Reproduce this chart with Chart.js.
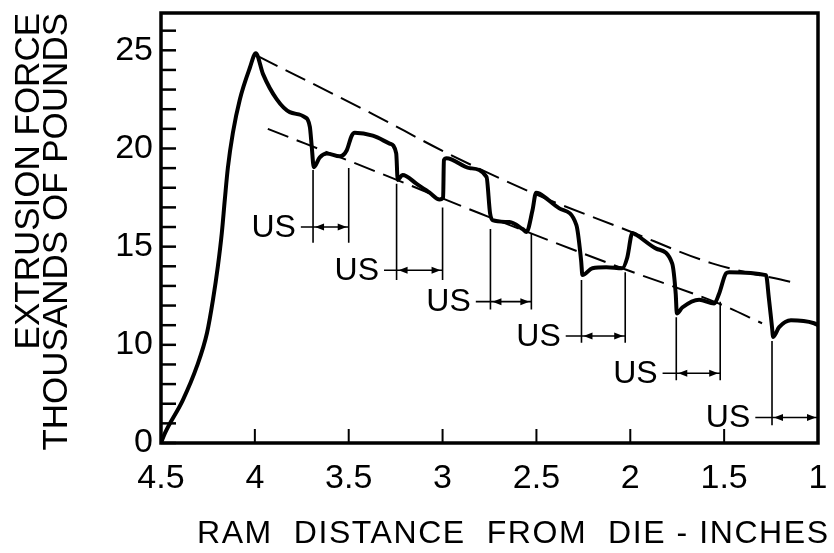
<!DOCTYPE html>
<html>
<head>
<meta charset="utf-8">
<title>Extrusion force vs ram distance</title>
<script src="https://cdn.jsdelivr.net/npm/chart.js@4.4.1/dist/chart.umd.min.js"></script>
<style>
  html, body { margin: 0; padding: 0; background: #fff; }
  canvas { display: block; }
</style>
</head>
<body>
<canvas id="forceChart" width="834" height="553"></canvas>
<script>
// trace: ram distance from die (in) -> force (1000 lb)
const ramDistance = [4.50, 4.479, 4.383, 4.309, 4.255, 4.223, 4.197, 4.176, 4.160, 4.144, 4.117, 4.080, 4.027, 3.995,
  3.957, 3.883, 3.814, 3.734, 3.707, 3.697, 3.686, 3.654, 3.617, 3.548, 3.511, 3.484, 3.468,
  3.372, 3.282, 3.247, 3.239, 3.213, 3.138, 3.069, 3.016, 2.997, 2.993, 2.979,
  2.856, 2.766, 2.747, 2.734, 2.644, 2.574, 2.553, 2.521, 2.502, 2.484,
  2.378, 2.287, 2.262, 2.255, 2.202, 2.128, 2.043, 2.016, 1.989, 1.968,
  1.862, 1.777, 1.758, 1.752, 1.723, 1.633, 1.553, 1.527, 1.489, 1.473,
  1.277, 1.262, 1.245, 1.239, 1.207, 1.144, 1.021, 1.0];
const force = [5.0, 5.5, 7.2, 8.9, 10.6, 12.3, 14.0, 15.7, 17.4, 19.0, 20.8, 22.5, 24.1, 24.85,
  23.8, 22.5, 21.85, 21.6, 21.1, 20.1, 19.05, 19.55, 19.75, 19.6, 19.9, 20.65, 20.8,
  20.65, 20.25, 19.75, 18.4, 18.65, 18.2, 17.75, 17.4, 17.5, 19.4, 19.5,
  19.0, 18.55, 16.7, 16.35, 16.25, 15.9, 15.75, 16.85, 17.75, 17.7,
  16.95, 16.1, 14.3, 13.55, 13.9, 13.95, 13.9, 14.45, 15.7, 15.6,
  14.9, 14.15, 12.6, 11.6, 11.9, 12.3, 12.1, 12.6, 13.65, 13.7,
  13.55, 12.4, 10.9, 10.4, 10.9, 11.25, 11.1, 11.0];

// dashed envelopes
const upperDist = [3.984, 3.372, 2.963, 2.500, 2.021, 1.564, 1.144];
const upperForce = [24.7, 21.75, 19.7, 17.65, 15.85, 14.15, 13.2];
const lowerDist = [3.931, 3.335, 2.803, 2.043, 1.527, 1.298];
const lowerForce = [21.0, 18.75, 16.7, 13.9, 12.1, 11.1];

// "US" intervals
const usStart = [3.69, 3.245, 2.745, 2.26, 1.755, 1.245];
const usEnd = [3.50, 3.00, 2.527, 2.027, 1.521, 1.0];
const usStartTop = [18.9, 18.2, 15.9, 13.3, 11.4, 10.2];
const usEndTop = [19.0, 17.0, 15.7, 13.7, 12.2, 11.0];
const usBottom = [15.2, 13.3, 11.8, 10.1, 8.2, 5.9];
const usArrow = [16.0, 13.8, 12.2, 10.45, 8.55, 6.3];
const usLabelAt = [3.90, 3.457, 2.968, 2.489, 1.973, 1.479];
const usText = 'US';

// axis: the force axis is drawn with a suppressed zero
const yTickValues = [5, 10, 15, 20, 25];
const yTickLabels = ['0', '10', '15', '20', '25'];
const xTitle = 'RAM  DISTANCE  FROM  DIE - INCHES';
const yTitle = ['EXTRUSION FORCE', 'THOUSANDS OF POUNDS'];

const FONT = '"Liberation Sans", Arial, sans-serif';

const toPoints = (xs, ys) => xs.map((v, i) => ({ x: v, y: ys[i] }));

const marks = {
  id: 'marks',
  afterDatasetsDraw(chart) {
    const { ctx, chartArea: a, scales: { x, y } } = chart;
    ctx.save();
    ctx.strokeStyle = '#000';
    ctx.fillStyle = '#000';

    // ticks point inward
    ctx.lineWidth = 2.5;
    y.ticks.forEach(t => {
      const py = y.getPixelForValue(t.value);
      ctx.beginPath(); ctx.moveTo(a.left, py); ctx.lineTo(a.left + 15, py); ctx.stroke();
    });
    ctx.lineWidth = 2;
    x.ticks.forEach(t => {
      const px = x.getPixelForValue(t.value);
      ctx.beginPath(); ctx.moveTo(px, a.bottom); ctx.lineTo(px, a.bottom - 14); ctx.stroke();
    });

    ctx.lineWidth = 3.5;
    ctx.strokeRect(a.left, a.top, a.right - a.left, a.bottom - a.top);

    // US brackets
    ctx.font = '32px ' + FONT;
    ctx.textAlign = 'center';
    ctx.textBaseline = 'middle';
    const tw = ctx.measureText(usText).width;
    usStart.forEach((d, i) => {
      const xl = x.getPixelForValue(d);
      const xr = x.getPixelForValue(usEnd[i]);
      const yb = y.getPixelForValue(usBottom[i]);
      const ya = y.getPixelForValue(usArrow[i]);
      const xt = x.getPixelForValue(usLabelAt[i]);

      ctx.lineWidth = 1.6;
      ctx.beginPath();
      ctx.moveTo(xl, y.getPixelForValue(usStartTop[i])); ctx.lineTo(xl, yb);
      ctx.moveTo(xr, y.getPixelForValue(usEndTop[i])); ctx.lineTo(xr, yb);
      ctx.moveTo(xt + tw / 2 + 5, ya); ctx.lineTo(xr, ya);
      ctx.stroke();

      ctx.beginPath();
      ctx.moveTo(xl + 2, ya); ctx.lineTo(xl + 11, ya - 3.5); ctx.lineTo(xl + 11, ya + 3.5);
      ctx.closePath();
      ctx.moveTo(xr - 2, ya); ctx.lineTo(xr - 11, ya - 3.5); ctx.lineTo(xr - 11, ya + 3.5);
      ctx.closePath();
      ctx.fill();

      ctx.fillText(usText, xt, ya + 1);
    });

    // x axis title
    ctx.font = '32px ' + FONT;
    ctx.textAlign = 'left';
    ctx.textBaseline = 'alphabetic';
    const x0 = a.left + 36, x1 = a.right + 10;
    const w = ctx.measureText(xTitle).width;
    ctx.letterSpacing = ((x1 - x0 - w) / (xTitle.length - 1)).toFixed(2) + 'px';
    ctx.fillText(xTitle, x0, a.bottom + 100);
    ctx.restore();
  }
};

new Chart(document.getElementById('forceChart'), {
  type: 'line',
  data: {
    datasets: [
      {
        label: 'Force',
        data: toPoints(ramDistance, force),
        borderColor: '#000',
        borderWidth: 4,
        pointRadius: 0,
        cubicInterpolationMode: 'monotone',
        fill: false
      },
      {
        label: 'Upper',
        data: toPoints(upperDist, upperForce),
        borderColor: '#000',
        borderWidth: 2,
        borderDash: [22, 9],
        pointRadius: 0,
        cubicInterpolationMode: 'monotone',
        fill: false
      },
      {
        label: 'Lower',
        data: toPoints(lowerDist, lowerForce),
        borderColor: '#000',
        borderWidth: 2,
        borderDash: [22, 9],
        pointRadius: 0,
        cubicInterpolationMode: 'monotone',
        fill: false
      }
    ]
  },
  options: {
    responsive: false,
    animation: false,
    devicePixelRatio: 1,
    layout: { padding: { top: 13, right: 16 } },
    plugins: { legend: { display: false }, tooltip: { enabled: false } },
    scales: {
      x: {
        type: 'linear',
        reverse: true,
        min: 1,
        max: 4.5,
        grid: { display: false, drawTicks: false },
        border: { display: false },
        ticks: {
          stepSize: 0.5,
          autoSkip: false,
          maxRotation: 0,
          padding: 15,
          color: '#000',
          font: { family: FONT, size: 34 },
          callback: v => String(v)
        },
        afterFit: s => { s.height = 110; s.paddingLeft = 0; s.paddingRight = 0; }
      },
      y: {
        type: 'linear',
        min: 5,
        max: 26.9,
        grid: { display: false, drawTicks: false },
        border: { display: false },
        ticks: {
          stepSize: 1,
          autoSkip: false,
          includeBounds: false,
          padding: 8,
          color: '#000',
          font: { family: FONT, size: 34 },
          callback: v => {
            const i = yTickValues.indexOf(v);
            return i >= 0 ? yTickLabels[i] : '';
          }
        },
        title: {
          display: true,
          text: yTitle,
          align: 'end',
          color: '#000',
          font: { family: FONT, size: 35, lineHeight: 0.8 },
          padding: { top: 15, bottom: 0 }
        },
        afterFit: s => { s.width = 161; s.paddingTop = 0; s.paddingBottom = 0; }
      }
    }
  },
  plugins: [marks]
});
</script>
</body>
</html>
